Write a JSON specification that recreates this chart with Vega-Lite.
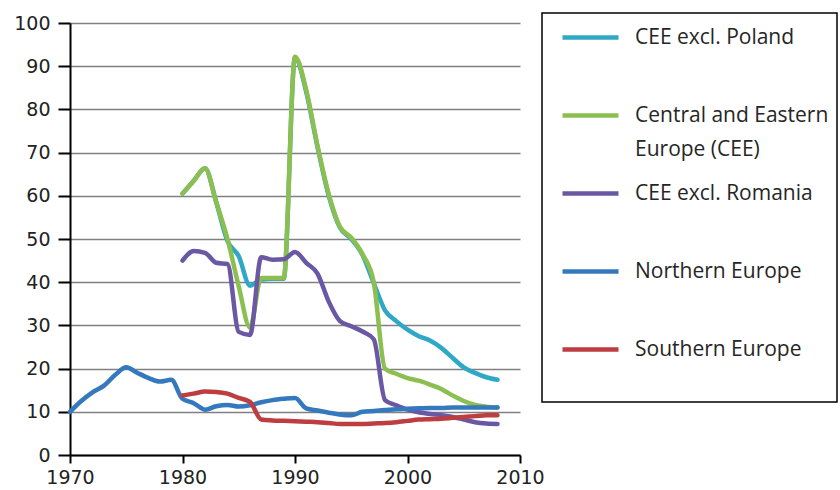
{
  "$schema": "https://vega.github.io/schema/vega-lite/v6.json",
  "width": 450,
  "height": 432,
  "autosize": {"type": "none"},
  "padding": {"left": 70, "top": 23, "right": 320, "bottom": 35},
  "background": "white",
  "config": {
    "view": {"stroke": null},
    "font": "DejaVu Sans",
    "legend": {"strokeWidth": 1.5}
  },
  "data": {
    "values": [
      {"series": "CEE excl. Poland", "year": 1980, "value": 60.5},
      {"series": "CEE excl. Poland", "year": 1981, "value": 63.5},
      {"series": "CEE excl. Poland", "year": 1982, "value": 66.4},
      {"series": "CEE excl. Poland", "year": 1983, "value": 58.5},
      {"series": "CEE excl. Poland", "year": 1984, "value": 49.5},
      {"series": "CEE excl. Poland", "year": 1985, "value": 46},
      {"series": "CEE excl. Poland", "year": 1986, "value": 39.2},
      {"series": "CEE excl. Poland", "year": 1987, "value": 40.6},
      {"series": "CEE excl. Poland", "year": 1988, "value": 40.8},
      {"series": "CEE excl. Poland", "year": 1989, "value": 40.8},
      {"series": "CEE excl. Poland", "year": 1990, "value": 92},
      {"series": "CEE excl. Poland", "year": 1991, "value": 84},
      {"series": "CEE excl. Poland", "year": 1992, "value": 71.3},
      {"series": "CEE excl. Poland", "year": 1993, "value": 60},
      {"series": "CEE excl. Poland", "year": 1994, "value": 52.6},
      {"series": "CEE excl. Poland", "year": 1995, "value": 50},
      {"series": "CEE excl. Poland", "year": 1996, "value": 46.3},
      {"series": "CEE excl. Poland", "year": 1997, "value": 39.8},
      {"series": "CEE excl. Poland", "year": 1998, "value": 33.5},
      {"series": "CEE excl. Poland", "year": 1999, "value": 31},
      {"series": "CEE excl. Poland", "year": 2000, "value": 29},
      {"series": "CEE excl. Poland", "year": 2001, "value": 27.5},
      {"series": "CEE excl. Poland", "year": 2002, "value": 26.5},
      {"series": "CEE excl. Poland", "year": 2003, "value": 24.8},
      {"series": "CEE excl. Poland", "year": 2004, "value": 22.5},
      {"series": "CEE excl. Poland", "year": 2005, "value": 20.3},
      {"series": "CEE excl. Poland", "year": 2006, "value": 19},
      {"series": "CEE excl. Poland", "year": 2007, "value": 18},
      {"series": "CEE excl. Poland", "year": 2008, "value": 17.4},
      {"series": "Central and Eastern Europe (CEE)", "year": 1980, "value": 60.5},
      {"series": "Central and Eastern Europe (CEE)", "year": 1981, "value": 63.5},
      {"series": "Central and Eastern Europe (CEE)", "year": 1982, "value": 66.4},
      {"series": "Central and Eastern Europe (CEE)", "year": 1983, "value": 58.5},
      {"series": "Central and Eastern Europe (CEE)", "year": 1984, "value": 50},
      {"series": "Central and Eastern Europe (CEE)", "year": 1985, "value": 39},
      {"series": "Central and Eastern Europe (CEE)", "year": 1986, "value": 29.5},
      {"series": "Central and Eastern Europe (CEE)", "year": 1987, "value": 41},
      {"series": "Central and Eastern Europe (CEE)", "year": 1988, "value": 41},
      {"series": "Central and Eastern Europe (CEE)", "year": 1989, "value": 41},
      {"series": "Central and Eastern Europe (CEE)", "year": 1990, "value": 92.2},
      {"series": "Central and Eastern Europe (CEE)", "year": 1991, "value": 84.5},
      {"series": "Central and Eastern Europe (CEE)", "year": 1992, "value": 71.6},
      {"series": "Central and Eastern Europe (CEE)", "year": 1993, "value": 60.4},
      {"series": "Central and Eastern Europe (CEE)", "year": 1994, "value": 52.8},
      {"series": "Central and Eastern Europe (CEE)", "year": 1995, "value": 50.3},
      {"series": "Central and Eastern Europe (CEE)", "year": 1996, "value": 46.5},
      {"series": "Central and Eastern Europe (CEE)", "year": 1997, "value": 40},
      {"series": "Central and Eastern Europe (CEE)", "year": 1998, "value": 20},
      {"series": "Central and Eastern Europe (CEE)", "year": 1999, "value": 18.8},
      {"series": "Central and Eastern Europe (CEE)", "year": 2000, "value": 17.8},
      {"series": "Central and Eastern Europe (CEE)", "year": 2001, "value": 17.2},
      {"series": "Central and Eastern Europe (CEE)", "year": 2002, "value": 16.3},
      {"series": "Central and Eastern Europe (CEE)", "year": 2003, "value": 15.3},
      {"series": "Central and Eastern Europe (CEE)", "year": 2004, "value": 13.8},
      {"series": "Central and Eastern Europe (CEE)", "year": 2005, "value": 12.5},
      {"series": "Central and Eastern Europe (CEE)", "year": 2006, "value": 11.6},
      {"series": "Central and Eastern Europe (CEE)", "year": 2007, "value": 11.2},
      {"series": "Central and Eastern Europe (CEE)", "year": 2008, "value": 11},
      {"series": "CEE excl. Romania", "year": 1980, "value": 45},
      {"series": "CEE excl. Romania", "year": 1981, "value": 47.2},
      {"series": "CEE excl. Romania", "year": 1982, "value": 46.8},
      {"series": "CEE excl. Romania", "year": 1983, "value": 44.5},
      {"series": "CEE excl. Romania", "year": 1984, "value": 44.2},
      {"series": "CEE excl. Romania", "year": 1985, "value": 28.5},
      {"series": "CEE excl. Romania", "year": 1986, "value": 27.8},
      {"series": "CEE excl. Romania", "year": 1987, "value": 45.8},
      {"series": "CEE excl. Romania", "year": 1988, "value": 45.2},
      {"series": "CEE excl. Romania", "year": 1989, "value": 45.3},
      {"series": "CEE excl. Romania", "year": 1990, "value": 47},
      {"series": "CEE excl. Romania", "year": 1991, "value": 44.5},
      {"series": "CEE excl. Romania", "year": 1992, "value": 42},
      {"series": "CEE excl. Romania", "year": 1993, "value": 35.5},
      {"series": "CEE excl. Romania", "year": 1994, "value": 31},
      {"series": "CEE excl. Romania", "year": 1995, "value": 29.8},
      {"series": "CEE excl. Romania", "year": 1996, "value": 28.6},
      {"series": "CEE excl. Romania", "year": 1997, "value": 26.8},
      {"series": "CEE excl. Romania", "year": 1998, "value": 12.7},
      {"series": "CEE excl. Romania", "year": 1999, "value": 11.5},
      {"series": "CEE excl. Romania", "year": 2000, "value": 10.5},
      {"series": "CEE excl. Romania", "year": 2001, "value": 9.9},
      {"series": "CEE excl. Romania", "year": 2002, "value": 9.5},
      {"series": "CEE excl. Romania", "year": 2003, "value": 9.2},
      {"series": "CEE excl. Romania", "year": 2004, "value": 8.8},
      {"series": "CEE excl. Romania", "year": 2005, "value": 8.2},
      {"series": "CEE excl. Romania", "year": 2006, "value": 7.6},
      {"series": "CEE excl. Romania", "year": 2007, "value": 7.3},
      {"series": "CEE excl. Romania", "year": 2008, "value": 7.2},
      {"series": "Northern Europe", "year": 1970, "value": 10},
      {"series": "Northern Europe", "year": 1971, "value": 12.5},
      {"series": "Northern Europe", "year": 1972, "value": 14.5},
      {"series": "Northern Europe", "year": 1973, "value": 16},
      {"series": "Northern Europe", "year": 1974, "value": 18.5},
      {"series": "Northern Europe", "year": 1975, "value": 20.3},
      {"series": "Northern Europe", "year": 1976, "value": 19},
      {"series": "Northern Europe", "year": 1977, "value": 17.8},
      {"series": "Northern Europe", "year": 1978, "value": 17},
      {"series": "Northern Europe", "year": 1979, "value": 17.4},
      {"series": "Northern Europe", "year": 1980, "value": 13},
      {"series": "Northern Europe", "year": 1981, "value": 12},
      {"series": "Northern Europe", "year": 1982, "value": 10.5},
      {"series": "Northern Europe", "year": 1983, "value": 11.3},
      {"series": "Northern Europe", "year": 1984, "value": 11.6},
      {"series": "Northern Europe", "year": 1985, "value": 11.2},
      {"series": "Northern Europe", "year": 1986, "value": 11.5},
      {"series": "Northern Europe", "year": 1987, "value": 12.2},
      {"series": "Northern Europe", "year": 1988, "value": 12.7},
      {"series": "Northern Europe", "year": 1989, "value": 13},
      {"series": "Northern Europe", "year": 1990, "value": 13.2},
      {"series": "Northern Europe", "year": 1991, "value": 10.8},
      {"series": "Northern Europe", "year": 1992, "value": 10.3},
      {"series": "Northern Europe", "year": 1993, "value": 9.8},
      {"series": "Northern Europe", "year": 1994, "value": 9.4},
      {"series": "Northern Europe", "year": 1995, "value": 9.2},
      {"series": "Northern Europe", "year": 1996, "value": 10},
      {"series": "Northern Europe", "year": 1997, "value": 10.2},
      {"series": "Northern Europe", "year": 1998, "value": 10.4},
      {"series": "Northern Europe", "year": 1999, "value": 10.6},
      {"series": "Northern Europe", "year": 2000, "value": 10.7},
      {"series": "Northern Europe", "year": 2001, "value": 10.8},
      {"series": "Northern Europe", "year": 2002, "value": 10.9},
      {"series": "Northern Europe", "year": 2003, "value": 10.9},
      {"series": "Northern Europe", "year": 2004, "value": 11},
      {"series": "Northern Europe", "year": 2005, "value": 11},
      {"series": "Northern Europe", "year": 2006, "value": 11},
      {"series": "Northern Europe", "year": 2007, "value": 11},
      {"series": "Northern Europe", "year": 2008, "value": 11},
      {"series": "Southern Europe", "year": 1980, "value": 13.8},
      {"series": "Southern Europe", "year": 1981, "value": 14.2},
      {"series": "Southern Europe", "year": 1982, "value": 14.7},
      {"series": "Southern Europe", "year": 1983, "value": 14.6},
      {"series": "Southern Europe", "year": 1984, "value": 14.2},
      {"series": "Southern Europe", "year": 1985, "value": 13.2},
      {"series": "Southern Europe", "year": 1986, "value": 12.3},
      {"series": "Southern Europe", "year": 1987, "value": 8.2},
      {"series": "Southern Europe", "year": 1988, "value": 8},
      {"series": "Southern Europe", "year": 1989, "value": 7.9},
      {"series": "Southern Europe", "year": 1990, "value": 7.8},
      {"series": "Southern Europe", "year": 1991, "value": 7.7},
      {"series": "Southern Europe", "year": 1992, "value": 7.6},
      {"series": "Southern Europe", "year": 1993, "value": 7.4},
      {"series": "Southern Europe", "year": 1994, "value": 7.2},
      {"series": "Southern Europe", "year": 1995, "value": 7.2},
      {"series": "Southern Europe", "year": 1996, "value": 7.2},
      {"series": "Southern Europe", "year": 1997, "value": 7.3},
      {"series": "Southern Europe", "year": 1998, "value": 7.4},
      {"series": "Southern Europe", "year": 1999, "value": 7.6},
      {"series": "Southern Europe", "year": 2000, "value": 7.9},
      {"series": "Southern Europe", "year": 2001, "value": 8.2},
      {"series": "Southern Europe", "year": 2002, "value": 8.3},
      {"series": "Southern Europe", "year": 2003, "value": 8.4},
      {"series": "Southern Europe", "year": 2004, "value": 8.6},
      {"series": "Southern Europe", "year": 2005, "value": 8.8},
      {"series": "Southern Europe", "year": 2006, "value": 9},
      {"series": "Southern Europe", "year": 2007, "value": 9.2},
      {"series": "Southern Europe", "year": 2008, "value": 9.2}
    ]
  },
  "mark": {"type": "line", "interpolate": "monotone", "strokeWidth": 4.5, "strokeCap": "round", "strokeJoin": "round"},
  "encoding": {
    "x": {
      "field": "year",
      "type": "quantitative",
      "scale": {"domain": [1970, 2010], "nice": false, "zero": false},
      "axis": {
        "values": [1970, 1980, 1990, 2000, 2010],
        "format": "d",
        "title": null,
        "grid": false,
        "domainColor": "#000000",
        "domainWidth": 2,
        "tickColor": "#000000",
        "tickWidth": 2,
        "tickSize": 8,
        "labelPadding": 5,
        "labelFont": "DejaVu Sans",
        "labelFontSize": 19,
        "labelColor": "#222222",
        "labelFlush": false
      }
    },
    "y": {
      "field": "value",
      "type": "quantitative",
      "scale": {"domain": [0, 100], "nice": false},
      "axis": {
        "values": [0, 10, 20, 30, 40, 50, 60, 70, 80, 90, 100],
        "title": null,
        "grid": true,
        "gridColor": "#808080",
        "gridWidth": 1.5,
        "domainColor": "#000000",
        "domainWidth": 2,
        "tickColor": "#000000",
        "tickWidth": 2,
        "tickSize": 12,
        "labelPadding": 8,
        "labelFont": "DejaVu Sans",
        "labelFontSize": 19,
        "labelColor": "#222222"
      }
    },
    "color": {
      "field": "series",
      "type": "nominal",
      "scale": {
        "domain": ["CEE excl. Poland", "Central and Eastern Europe (CEE)", "CEE excl. Romania", "Northern Europe", "Southern Europe"],
        "range": ["#2fa8c6", "#8bc050", "#6a58a4", "#3478bd", "#bd3d40"]
      },
      "legend": {
        "title": null,
        "orient": "none",
        "legendX": 472,
        "legendY": -10,
        "strokeColor": "#000000",
        "fillColor": "#ffffff",
        "padding": 8,
        "symbolType": "M-2,0H2",
        "symbolSize": 784,
        "symbolStrokeWidth": 4.5,
        "symbolOffset": 24,
        "labelOffset": 28,
        "labelFont": "Open Sans",
        "labelFontSize": 21,
        "labelColor": "#262626",
        "labelLimit": 400,
        "rowPadding": 17,
        "gridAlign": "all",
        "labelExpr": "datum.label == 'Central and Eastern Europe (CEE)' ? ['Central and Eastern', 'Europe (CEE)'] : datum.label == 'Southern Europe' ? ['Southern Europe', ''] : datum.label",
        "encode": {"labels": {"update": {"lineHeight": {"value": 34}}}}
      }
    }
  }
}
